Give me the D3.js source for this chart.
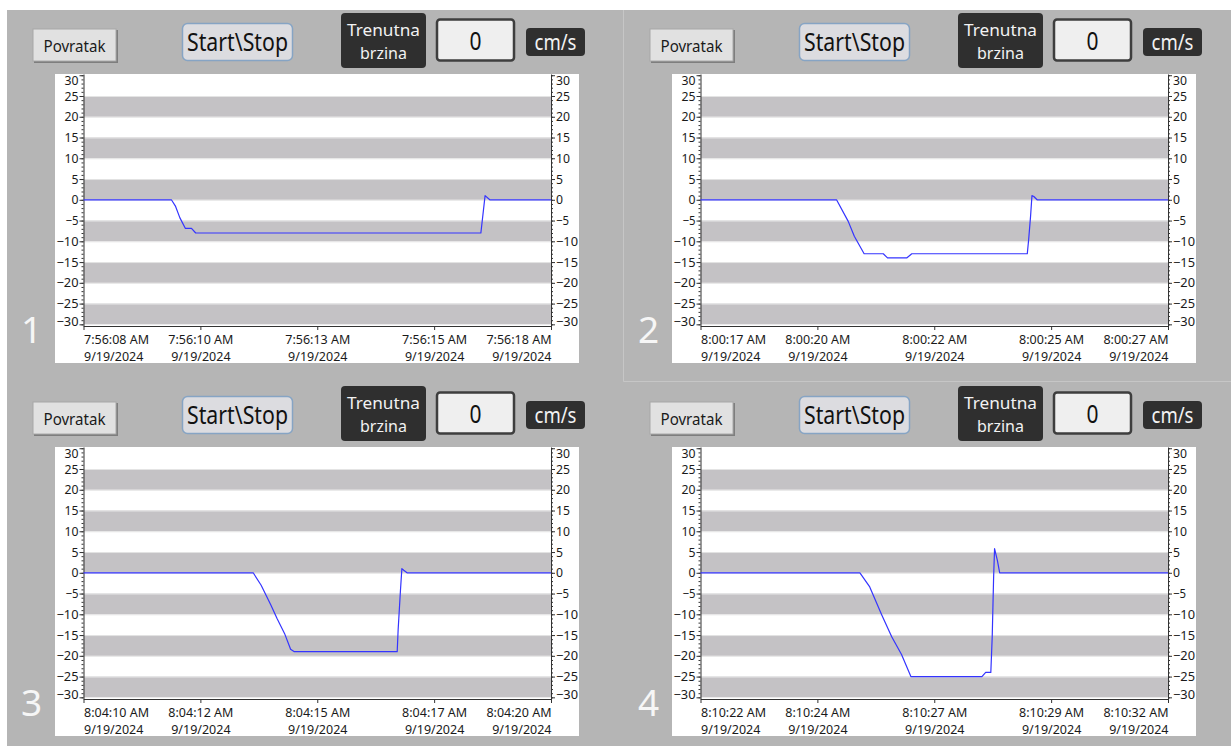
<!DOCTYPE html>
<html lang="en">
<head>
<meta charset="UTF-8">
<title>Trenutna brzina</title>
<style>
body{margin:0;background:#fff;}
svg{display:block;font-family:"Noto Sans",sans-serif;}
</style>
</head>
<body>
<svg id="ss" width="1231" height="746"></svg>
<script src="https://cdn.jsdelivr.net/npm/d3@7/dist/d3.min.js"></script>
<script>
// window start of each recording (10 s shown), time = seconds after start
var p1Start="2024-09-19T07:56:08.200"
var p1Time=[0,1.88,1.97,2.06,2.18,2.31,2.40,8.50,8.59,8.69,10]
var p1Speed=[0,0,-1.6,-4.3,-6.9,-6.9,-8,-8,1,0,0]

var p2Start="2024-09-19T08:00:17.600"
var p2Time=[0,2.91,3.16,3.29,3.50,3.91,4.00,4.41,4.52,6.99,7.02,7.06,7.09,7.13,7.20,10]
var p2Speed=[0,0,-5.2,-8.8,-13,-13,-14,-14,-13,-13,-9.5,-4,1,0.8,0,0]

var p3Start="2024-09-19T08:04:10.200"
var p3Time=[0,3.63,3.80,4.01,4.14,4.30,4.43,4.51,6.71,6.73,6.78,6.81,6.85,6.92,10]
var p3Speed=[0,0,-3,-7.8,-11,-14.6,-18.4,-19,-19,-13.8,-4.2,1,0.6,0,0]

var p4Start="2024-09-19T08:10:22.200"
var p4Time=[0,3.41,3.62,3.88,4.09,4.30,4.50,6.02,6.10,6.21,6.24,6.27,6.29,6.35,6.40,10]
var p4Speed=[0,0,-3.4,-10.2,-15.4,-19.7,-25,-25,-24,-24,-15.4,-1,5.8,3,0,0]

var yTicks=[30,25,20,15,10,5,0,-5,-10,-15,-20,-25,-30]
var xTickSteps=[0,2.5,5,7.5,10]
var panelNames=["1","2","3","4"]
var currentValue="0", unitLabel="cm/s"

var svg=d3.select('#ss')
var fmtTime=d3.timeFormat("%-I:%M:%S %p"), fmtDate=d3.timeFormat("%-m/%-d/%Y")

svg.append('rect').attr('width',1231).attr('height',746).attr('fill','#b5b5b5')
svg.append('rect').attr('width',1231).attr('height',10).attr('fill','#fff')
svg.append('rect').attr('width',7).attr('height',746).attr('fill','#fff')
// outline round the second screen
svg.append('path').attr('d','M623.5,10V381.5H1231').attr('fill','none').attr('stroke','#c6c6c6')

function drawPanel(idx,ox,oy,start,times,speeds){
    var g=svg.append('g').attr('transform',`translate(${ox},${oy})`)

    // controls row
    g.append('rect').attr('x',34).attr('y',30).attr('width',84).attr('height',33).attr('fill','#7e7e7e')
    g.append('rect').attr('x',33).attr('y',29).attr('width',83).attr('height',32).attr('fill','#e1e1e1').attr('stroke','#a8a8a8')
    g.append('text').attr('x',74.5).attr('y',51.5).attr('text-anchor','middle').attr('font-size',15.5)
        .attr('textLength',62).attr('lengthAdjust','spacingAndGlyphs').attr('fill','#1a1a1a').text('Povratak')

    g.append('rect').attr('x',182.5).attr('y',23.5).attr('width',110).attr('height',37).attr('rx',5)
        .attr('fill','#dcdce0').attr('stroke','#86a4c4').attr('stroke-width',1.5)
    g.append('text').attr('x',237.5).attr('y',51).attr('text-anchor','middle').attr('font-size',25)
        .attr('textLength',101).attr('lengthAdjust','spacingAndGlyphs').attr('fill','#111').text('Start\\Stop')

    g.append('rect').attr('x',341).attr('y',13).attr('width',85).attr('height',55).attr('rx',4).attr('fill','#2f2f2f')
    g.append('text').attr('x',383.5).attr('y',35.5).attr('text-anchor','middle').attr('font-size',17)
        .attr('textLength',73).attr('lengthAdjust','spacingAndGlyphs').attr('fill','#f2f2f2').text('Trenutna')
    g.append('text').attr('x',383.5).attr('y',59).attr('text-anchor','middle').attr('font-size',17)
        .attr('textLength',47).attr('lengthAdjust','spacingAndGlyphs').attr('fill','#f2f2f2').text('brzina')

    g.append('rect').attr('x',437).attr('y',19.5).attr('width',77).attr('height',41).attr('rx',3)
        .attr('fill','#efefef').attr('stroke','#3e3e3e').attr('stroke-width',2.5)
    g.append('text').attr('x',475.5).attr('y',50).attr('text-anchor','middle').attr('font-size',26)
        .attr('textLength',12).attr('lengthAdjust','spacingAndGlyphs').attr('fill','#111').text(currentValue)

    g.append('rect').attr('x',526).attr('y',28).attr('width',59).attr('height',28).attr('rx',4).attr('fill','#2f2f2f')
    g.append('text').attr('x',555.5).attr('y',49.5).attr('text-anchor','middle').attr('font-size',21)
        .attr('textLength',42).attr('lengthAdjust','spacingAndGlyphs').attr('fill','#f2f2f2').text(unitLabel)

    g.append('text').attr('x',21).attr('y',343).attr('font-size',37).attr('fill','#f6f6f6').text(panelNames[idx])

    // chart
    var t0=new Date(start)
    var sec=s=>new Date(t0.getTime()+s*1000)
    var data=times.map((t,i)=>({t:sec(t),v:speeds[i]}))
    var left=83.5,right=551,top=74,bottom=326
    var x=d3.scaleTime().domain([sec(0),sec(10)]).range([left,right])
    var y=d3.scaleLinear().domain([-30.4,30.3]).range([bottom,top])

    g.append('rect').attr('x',55).attr('y',74).attr('width',524).attr('height',289).attr('fill','#fff')

    var bands=d3.range(-6,6).filter(k=>k%2===0)
    g.append('g').selectAll('rect').data(bands).join('rect')
        .attr('x',left).attr('width',right-left)
        .attr('y',k=>y(k*5+5)).attr('height',k=>y(Math.max(k*5,-30.4))-y(k*5+5))
        .attr('fill','#c4c2c5')
    g.append('g').selectAll('line').data(yTicks.filter(d=>d>-30&&d<30)).join('line')
        .attr('x1',left).attr('x2',right).attr('y1',d=>y(d)+0.5).attr('y2',d=>y(d)+0.5)
        .attr('stroke','#e4e4e4').attr('stroke-width',1)

    var minor=d3.range(-30,31)
    function yAxis(axisFn,tx){
        var a=g.append('g').attr('transform',`translate(${tx},0)`)
        a.append('g').call(axisFn(y).tickValues(minor).tickSize(2).tickSizeOuter(0).tickFormat(''))
            .call(s=>s.select('.domain').remove())
        a.append('g').call(axisFn(y).tickValues(yTicks).tickSize(4).tickSizeOuter(0).tickPadding(1))
            .call(s=>s.selectAll('text').attr('font-family','"Noto Sans",sans-serif').attr('font-size',12.5)
                .attr('textLength',d=>d<0?(d<=-10?22:13):(d>=10?14:7)).attr('lengthAdjust','spacingAndGlyphs').attr('fill','#1a1a1a')
                .attr('y',d=>d===30?5:(d===-30?-2.5:0)))
        a.selectAll('line,path').attr('stroke','#333')
    }
    yAxis(d3.axisLeft,left)
    yAxis(d3.axisRight,right)

    var xt=xTickSteps.map(sec)
    var xa=g.append('g').attr('transform',`translate(0,${bottom})`)
        .call(d3.axisBottom(x).tickValues(xt).tickSize(4).tickSizeOuter(0).tickFormat(''))
    xa.selectAll('line,path').attr('stroke','#333')
    xa.selectAll('.tick').each(function(d,i){
        var anchor=i===0?'start':(i===xt.length-1?'end':'middle')
        var tk=d3.select(this)
        tk.append('text').attr('y',18).attr('text-anchor',anchor).attr('font-family','"Noto Sans",sans-serif')
            .attr('font-size',12.5).attr('fill','#1a1a1a').text(fmtTime(d))
        tk.append('text').attr('y',35).attr('text-anchor',anchor).attr('font-family','"Noto Sans",sans-serif')
            .attr('font-size',12.5).attr('fill','#1a1a1a').text(fmtDate(d))
    })

    var line=d3.line().x(d=>x(d.t)).y(d=>y(d.v))
    g.append('path').datum(data).attr('fill','none').attr('stroke','#3434ff').attr('stroke-width',1.2)
        .attr('stroke-linejoin','round').attr('d',line)
}

drawPanel(0,0,0,p1Start,p1Time,p1Speed)
drawPanel(1,617,0,p2Start,p2Time,p2Speed)
drawPanel(2,0,373,p3Start,p3Time,p3Speed)
drawPanel(3,617,373,p4Start,p4Time,p4Speed)
</script>
</body>
</html>
